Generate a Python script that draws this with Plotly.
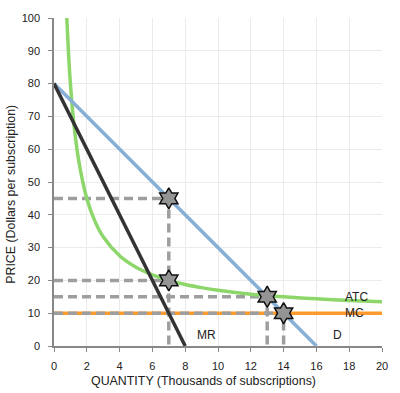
import plotly.graph_objects as go

# Data
demand_q = [0, 16]
demand_p = [80, 0]
mr_q = [0, 8]
mr_p = [80, 0]
mc_q = [0, 20]
mc_p = [10, 10]
atc_q = [0.78, 0.9, 1.0, 1.2, 1.5, 2, 2.5, 3, 4, 5, 6, 7, 8, 9, 10, 12, 13, 14, 16, 18, 20]
atc_p = [100, 87.8, 80, 68.3, 56.7, 45, 38, 33.3, 27.5, 24, 21.7, 20, 18.75, 17.8, 17, 15.8, 15.4, 15, 14.4, 13.9, 13.5]
star_q = [7, 7, 13, 14]
star_p = [45, 20, 15, 10]
guides = [([0, 7, 7], [45, 45, 0]), ([0, 7], [20, 20]), ([0, 13, 13], [15, 15, 0]), ([0, 14, 14], [10, 10, 0])]
labels = [("ATC", 17.6, 14.8), ("MC", 17.6, 10.2), ("MR", 8.6, 3.5), ("D", 16.9, 3.5)]

FONT = "Liberation Sans, Arial, sans-serif"

fig = go.Figure()
fig.add_trace(go.Scatter(x=mc_q, y=mc_p, mode="lines", line=dict(color="#FF9A2E", width=3.5), hoverinfo="skip"))
for gx, gy in guides:
    fig.add_trace(go.Scatter(x=gx, y=gy, mode="lines", line=dict(color="#9E9E9E", width=3.5, dash="9px,5px"), hoverinfo="skip"))
fig.add_trace(go.Scatter(x=atc_q, y=atc_p, mode="lines", line=dict(color="#8CD66A", width=3.5, shape="spline"), hoverinfo="skip"))
fig.add_trace(go.Scatter(x=demand_q, y=demand_p, mode="lines", line=dict(color="#86AED6", width=3.5), hoverinfo="skip"))
fig.add_trace(go.Scatter(x=mr_q, y=mr_p, mode="lines", line=dict(color="#333333", width=3.5), hoverinfo="skip"))
fig.add_trace(go.Scatter(x=star_q, y=star_p, mode="markers",
                         marker=dict(symbol="hexagram", size=16, color="#949494", line=dict(color="#111111", width=1.5)),
                         hoverinfo="skip"))

for txt, lx, ly in labels:
    fig.add_annotation(x=lx, y=ly, text=txt, showarrow=False, xanchor="left",
                       font=dict(family=FONT, size=12, color="#222222"))

fig.add_annotation(xref="paper", yref="paper", x=0.455, y=-0.106, text="QUANTITY (Thousands of subscriptions)",
                   showarrow=False, xanchor="center", yanchor="middle",
                   font=dict(family=FONT, size=12.4, color="#222222"))
fig.add_annotation(xref="paper", yref="paper", x=-0.13, y=0.462, text="PRICE (Dollars per subscription)",
                   showarrow=False, xanchor="center", yanchor="middle", textangle=-90,
                   font=dict(family=FONT, size=12.4, color="#222222"))

fig.update_layout(
    width=400, height=393,
    margin=dict(l=54, r=15, t=14, b=47),
    paper_bgcolor="white", plot_bgcolor="white",
    showlegend=False,
    font=dict(family=FONT, size=11, color="#222222"),
)
fig.update_xaxes(range=[0, 20], dtick=2, showgrid=True, gridcolor="#EBEBEB", gridwidth=1,
                 showline=True, linecolor="#888888", linewidth=1.5, ticks="outside", ticklen=4,
                 tickcolor="#888888", zeroline=False, ticklabelstandoff=5)
fig.update_yaxes(range=[0, 100], dtick=10, showgrid=True, gridcolor="#EBEBEB", gridwidth=1,
                 showline=True, linecolor="#888888", linewidth=1.5, ticks="outside", ticklen=4,
                 tickcolor="#888888", zeroline=False, ticklabelstandoff=6)

fig.write_html("out.html")
